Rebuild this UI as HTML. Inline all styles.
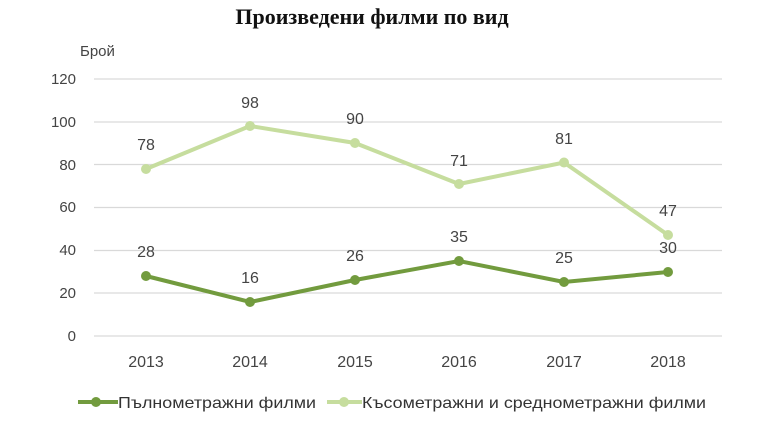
<!DOCTYPE html>
<html><head><meta charset="utf-8"><style>body{margin:0;background:#fff}</style></head>
<body>
<svg width="768" height="432" xmlns="http://www.w3.org/2000/svg" font-family="Liberation Sans, DejaVu Sans, sans-serif">
<rect width="768" height="432" fill="#fff"/>
<text x="372" y="24" text-anchor="middle" font-family="Liberation Serif, DejaVu Serif, serif" font-weight="bold" font-size="22" fill="#111">Произведени филми по вид</text>
<text x="80" y="56" font-size="15" fill="#444">Брой</text>
<g stroke="#d9d9d9" stroke-width="1.2">
<line x1="94" x2="722" y1="79" y2="79"/><line x1="94" x2="722" y1="122" y2="122"/><line x1="94" x2="722" y1="164.5" y2="164.5"/><line x1="94" x2="722" y1="207.5" y2="207.5"/><line x1="94" x2="722" y1="250.5" y2="250.5"/><line x1="94" x2="722" y1="293" y2="293"/><line x1="94" x2="722" y1="336" y2="336"/>
</g>
<g font-size="15" fill="#444" text-anchor="end">
<text x="76" y="84">120</text><text x="76" y="127">100</text><text x="76" y="170">80</text><text x="76" y="212">60</text><text x="76" y="255">40</text><text x="76" y="298">20</text><text x="76" y="341">0</text>
</g>
<g font-size="16" fill="#444" text-anchor="middle">
<text x="146" y="367">2013</text><text x="250" y="367">2014</text><text x="355" y="367">2015</text><text x="459" y="367">2016</text><text x="564" y="367">2017</text><text x="668" y="367">2018</text>
</g>
<polyline fill="none" stroke="#c6dd9e" stroke-width="4" points="146,169 250,126 355,143 459,184 564,162.5 668,235"/>
<g fill="#c6dd9e"><circle cx="146" cy="169" r="5"/><circle cx="250" cy="126" r="5"/><circle cx="355" cy="143" r="5"/><circle cx="459" cy="184" r="5"/><circle cx="564" cy="162.5" r="5"/><circle cx="668" cy="235" r="5"/></g>
<polyline fill="none" stroke="#729b3e" stroke-width="4" points="146,276 250,302 355,280 459,261 564,282 668,272"/>
<g fill="#729b3e"><circle cx="146" cy="276" r="5"/><circle cx="250" cy="302" r="5"/><circle cx="355" cy="280" r="5"/><circle cx="459" cy="261" r="5"/><circle cx="564" cy="282" r="5"/><circle cx="668" cy="272" r="5"/></g>
<g font-size="16" fill="#444" text-anchor="middle">
<text x="146" y="150">78</text><text x="250" y="108">98</text><text x="355" y="124">90</text><text x="459" y="166">71</text><text x="564" y="144">81</text><text x="668" y="216">47</text>
<text x="146" y="257">28</text><text x="250" y="283">16</text><text x="355" y="261">26</text><text x="459" y="242">35</text><text x="564" y="263">25</text><text x="668" y="253">30</text>
</g>
<line x1="78" x2="118" y1="402" y2="402" stroke="#729b3e" stroke-width="4"/><circle cx="96" cy="402" r="5" fill="#729b3e"/>
<text x="118" y="408" font-size="16" fill="#333" textLength="198" lengthAdjust="spacingAndGlyphs">Пълнометражни филми</text>
<line x1="327" x2="362" y1="402" y2="402" stroke="#c6dd9e" stroke-width="4"/><circle cx="344" cy="402" r="5" fill="#c6dd9e"/>
<text x="362" y="408" font-size="16" fill="#333" textLength="344" lengthAdjust="spacingAndGlyphs">Късометражни и средно­метражни филми</text>
</svg>
</body></html>
